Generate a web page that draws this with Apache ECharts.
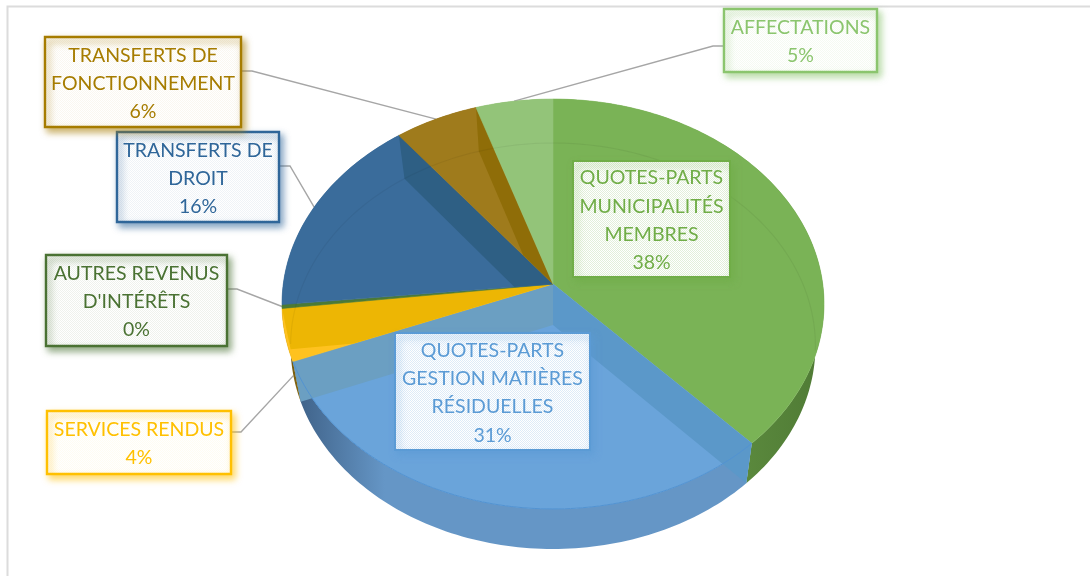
<!DOCTYPE html>
<html>
<head>
<meta charset="utf-8">
<title>Revenus</title>
<script src="https://cdn.jsdelivr.net/npm/echarts@6/dist/echarts.min.js"></script>
<style>
  html, body { margin: 0; padding: 0; background: #fff; }
  #main { width: 1090px; height: 576px; }
</style>
</head>
<body>
<div id="main"></div>
<script>
// values, clockwise from 12 o'clock
const categories = [
  ['QUOTES-PARTS', 'MUNICIPALITÉS', 'MEMBRES'],
  ['QUOTES-PARTS', 'GESTION MATIÈRES', 'RÉSIDUELLES'],
  ['SERVICES RENDUS'],
  ['AUTRES REVENUS', "D'INTÉRÊTS"],
  ['TRANSFERTS DE', 'DROIT'],
  ['TRANSFERTS DE', 'FONCTIONNEMENT'],
  ['AFFECTATIONS']
];
const values = [38, 31, 4.1, 0.3, 16.05, 5.5, 5.05];

// colours per slice
const topColors = ['#7ab356', '#6aa4da', '#ffc21f', '#4b7a35', '#3a6c9b', '#9f7b1c', '#93c479'];
const textColors = ['#70ad47', '#5b9bd5', '#ffc000', '#4a7233', '#2f6699', '#a67c00', '#8bc56e'];
const boxTints = [0.2, 0.2, 0.05, 0.09, 0.08, 0.06, 0.09];
const wallStart = ['#76ad50', '#3d5f85', '#5f4a10', '#3f5f2a', '#2e5f84', '#7f6210', '#7fb060'];
const wallEnd = ['#4f7a35', '#6596c6', '#8a6a10', '#3f5f2a', '#2e5f84', '#7f6210', '#7fb060'];
// darker bands inside a slice where the walls show through: [at start, at end]
const bands = [
  [null, null],
  ['#5b98c9', '#6b9fc2'],
  [null, '#edb604'],
  [null, null],
  [null, '#2e5f84'],
  [null, '#8f6d08'],
  [null, null]
];

// label boxes: x, y, width, height, elbow of the leader line, side it leaves from
const labelBoxes = [
  { x: 573, y: 161, w: 157, h: 116 },
  { x: 395, y: 333, w: 195, h: 117 },
  { x: 47, y: 411, w: 184, h: 63, elbow: [241, 432], base: true },
  { x: 46, y: 255, w: 181, h: 91, elbow: [237, 289] },
  { x: 117, y: 132, w: 162, h: 90, elbow: [290, 166] },
  { x: 45, y: 37, w: 196, h: 90, elbow: [252, 71] },
  { x: 724, y: 9, w: 153, h: 63, elbow: [713, 46] }
];

// the two perspective disks of the pie
const topDisk = { cx: 553, cy: 284, a: 203, c: -0.0976, d: 269.7 };
const baseDisk = { cx: 553, cy: 325, a: 200.8, c: -0.1034, d: 261 };

const total = values.reduce((s, v) => s + v, 0);
const starts = [];
values.reduce((s, v, i) => { starts[i] = s; return s + v; }, 0);

function angleOf(share) {
  return share / total * Math.PI * 2;
}

function project(disk, angle) {
  let u = Math.sin(angle);
  let v = -Math.cos(angle);
  let w = 1 + disk.c * v;
  return [disk.cx + disk.d * u / w, disk.cy + disk.a * v / w];
}

function arcPoints(disk, from, to) {
  let pts = [];
  let n = Math.max(2, Math.ceil(Math.abs(to - from) / 0.02));
  for (let i = 0; i <= n; i++) {
    pts.push(project(disk, from + (to - from) * i / n));
  }
  return pts;
}

function sliceRange(i) {
  return [angleOf(starts[i]), angleOf(starts[i] + values[i])];
}

// keeps the part of pts on the inner side of the line a -> b
function clipHalf(pts, a, b) {
  let side = p => (b[0] - a[0]) * (p[1] - a[1]) - (b[1] - a[1]) * (p[0] - a[0]);
  let out = [];
  pts.forEach(function (p, i) {
    let q = pts[(i + 1) % pts.length];
    let sp = side(p);
    let sq = side(q);
    if (sp >= -0.01) out.push(p);
    if ((sp > 0.01 && sq < -0.01) || (sp < -0.01 && sq > 0.01)) {
      let t = sp / (sp - sq);
      out.push([p[0] + (q[0] - p[0]) * t, p[1] + (q[1] - p[1]) * t]);
    }
  });
  return out;
}

function dotted(color, tint) {
  let cv = document.createElement('canvas');
  cv.width = 2;
  cv.height = 2;
  let ctx = cv.getContext('2d');
  ctx.fillStyle = '#fff';
  ctx.fillRect(0, 0, 2, 2);
  ctx.globalAlpha = tint;
  ctx.fillStyle = color;
  ctx.fillRect(0, 0, 1, 1);
  ctx.fillRect(1, 1, 1, 1);
  return { image: cv, repeat: 'repeat' };
}

// outer side of the pie
function renderWall(params) {
  let i = params.dataIndex;
  let r = sliceRange(i);
  let rim = arcPoints(topDisk, r[0], r[1]);
  let base = arcPoints(baseDisk, r[0], r[1]).reverse();
  let pts = rim.concat(base);
  let xs = pts.map(p => p[0]);
  let x0 = Math.min.apply(null, xs);
  let x1 = Math.max.apply(null, xs);
  return {
    type: 'polygon',
    shape: { points: pts },
    style: {
      fill: new echarts.graphic.LinearGradient(x0, 0, x1, 0, [
        { offset: 0, color: wallStart[i] },
        { offset: i === 1 ? 0.2 : 1, color: wallEnd[i] },
        { offset: 1, color: wallEnd[i] }
      ], true)
    }
  };
}

// top face, with the inner walls seen through it
function renderTop(params) {
  let i = params.dataIndex;
  let r = sliceRange(i);
  let apex = [topDisk.cx, topDisk.cy];
  let children = [{
    type: 'polygon',
    shape: { points: [apex].concat(arcPoints(topDisk, r[0], r[1])) },
    style: { fill: topColors[i], stroke: topColors[i], lineWidth: 0.6 }
  }];
  [0, 1].forEach(function (k) {
    if (!bands[i][k]) return;
    let pts = [
      apex,
      project(topDisk, r[k]),
      project(baseDisk, r[k]),
      [baseDisk.cx, baseDisk.cy]
    ];
    // the band only shows inside its own slice
    pts = clipHalf(pts, apex, project(topDisk, r[0]));
    pts = clipHalf(pts, project(topDisk, r[1]), apex);
    children.push({
      type: 'polygon',
      shape: { points: pts },
      style: { fill: bands[i][k] }
    });
  });
  return { type: 'group', children: children };
}

// faint line of the far base edge and the rim on top of it
function renderEdges(params) {
  return {
    type: 'group',
    children: [{
      type: 'polyline',
      shape: { points: arcPoints(baseDisk, angleOf(73.5), angleOf(127)) },
      style: { fill: 'none', stroke: 'rgba(0,0,0,0.05)', lineWidth: 1.2 }
    }, {
      type: 'polyline',
      shape: { points: arcPoints(topDisk, angleOf(38), angleOf(69)) },
      style: { fill: 'none', stroke: '#5293d2', lineWidth: 1 }
    }]
  };
}

function renderLeader(params) {
  let i = params.dataIndex;
  let box = labelBoxes[i];
  if (!box.elbow) return null;
  let mid = angleOf(starts[i] + values[i] / 2);
  let end = project(box.base ? baseDisk : topDisk, mid);
  let side = box.x > box.elbow[0] ? box.x : box.x + box.w;
  return {
    type: 'polyline',
    shape: { points: [[side, box.elbow[1]], box.elbow, end] },
    style: { fill: 'none', stroke: '#a6a6a6', lineWidth: 1.4 }
  };
}

function renderLabel(params) {
  let i = params.dataIndex;
  let box = labelBoxes[i];
  let lines = categories[i].concat(Math.round(values[i] / total * 100) + '%');
  let lineH = 28.2;
  let startY = box.y + box.h / 2 - lineH * (lines.length - 1) / 2 + 1.5;
  let children = [{
    type: 'rect',
    shape: { x: box.x, y: box.y, width: box.w, height: box.h },
    style: {
      fill: dotted(textColors[i], boxTints[i]),
      stroke: textColors[i],
      lineWidth: i < 2 ? 2 : 2.4,
      shadowBlur: 7,
      shadowOffsetX: 3,
      shadowOffsetY: 4,
      shadowColor: echarts.color.modifyAlpha(textColors[i], 0.6)
    }
  }];
  lines.forEach(function (t, k) {
    children.push({
      type: 'text',
      style: {
        x: box.x + box.w / 2,
        y: startY + k * lineH,
        text: t,
        fill: textColors[i],
        font: '19.5px Lato, "Open Sans", sans-serif',
        align: 'center',
        verticalAlign: 'middle'
      }
    });
  });
  return { type: 'group', children: children };
}

function layer(renderItem, z) {
  return {
    type: 'custom',
    coordinateSystem: 'none',
    silent: true,
    z: z,
    renderItem: renderItem,
    data: values.map((v, i) => [i, v])
  };
}

let myChart = echarts.init(document.getElementById('main'), null, { renderer: 'canvas' });
let option = {
  animation: false,
  backgroundColor: '#fff',
  graphic: [{
    type: 'polyline',
    z: 0,
    shape: { points: [[7.5, 576], [7.5, 6.5], [1090, 6.5]] },
    style: { fill: 'none', stroke: '#dcdcdc', lineWidth: 2 }
  }],
  series: [
    layer(renderWall, 2),
    layer(renderTop, 3),
    {
      type: 'custom',
      coordinateSystem: 'none',
      silent: true,
      z: 4,
      renderItem: renderEdges,
      data: [[0]]
    },
    layer(renderLeader, 1),
    layer(renderLabel, 6)
  ]
};
myChart.setOption(option);
</script>
</body>
</html>
